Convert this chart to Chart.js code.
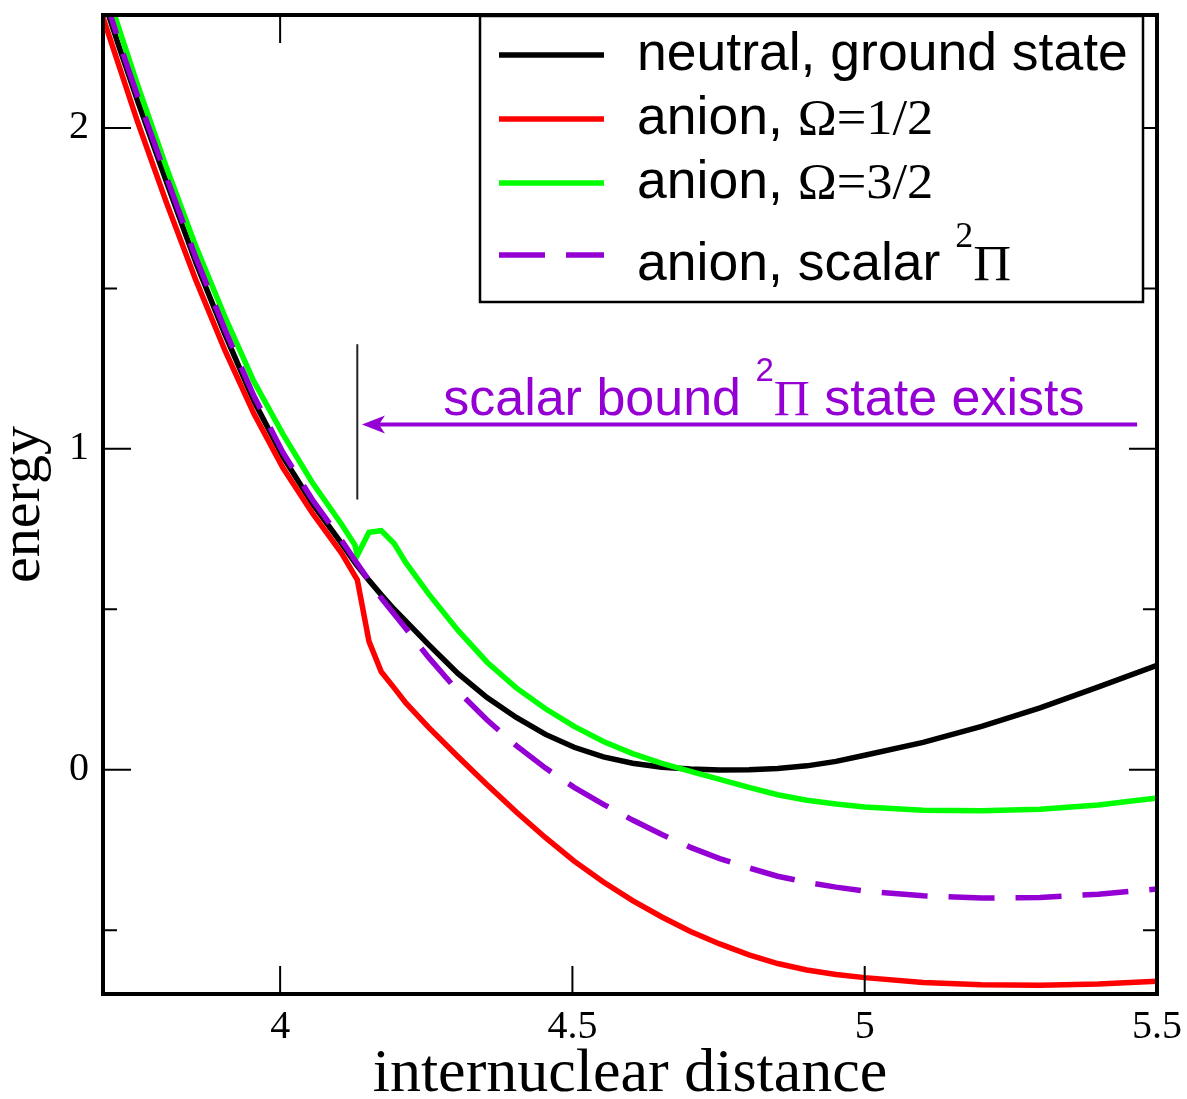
<!DOCTYPE html>
<html>
<head>
<meta charset="utf-8">
<title>energy vs internuclear distance</title>
<script src="https://cdn.jsdelivr.net/npm/chart.js@4.4.1/dist/chart.umd.min.js"></script>
<style>
  html, body { margin: 0; padding: 0; background: #fff; }
  canvas { display: block; }
</style>
</head>
<body>
<canvas id="energyChart" width="1187" height="1099"></canvas>
<script>
// points (internuclear distance)
const distance = [3.696, 3.726, 3.756, 3.806, 3.856, 3.906, 3.955, 4.005, 4.055, 4.105,
                  4.128, 4.132, 4.152, 4.173, 4.195, 4.215, 4.254, 4.304, 4.354, 4.404, 4.454,
                  4.503, 4.553, 4.603, 4.653, 4.702, 4.752, 4.802, 4.851, 4.901, 4.951,
                  5.0, 5.1, 5.2, 5.3, 5.4, 5.5];

const neutralGround = [2.41, 2.245, 2.085, 1.83, 1.58, 1.355, 1.15, 0.975, 0.83, 0.705,
                       0.645, 0.635, 0.59, 0.545, 0.50, 0.463, 0.39, 0.30, 0.225, 0.163, 0.11,
                       0.07, 0.04, 0.02, 0.008, 0.002, -0.001, 0.0, 0.004, 0.012, 0.026,
                       0.045, 0.085, 0.135, 0.193, 0.258, 0.325];

const anionHalf = [2.35, 2.185, 2.02, 1.765, 1.525, 1.305, 1.11, 0.94, 0.80, 0.675,
                   0.604, 0.592, 0.40, 0.305, 0.255, 0.208, 0.132, 0.041, -0.047, -0.132, -0.212,
                   -0.285, -0.35, -0.408, -0.459, -0.504, -0.543, -0.577, -0.604, -0.624, -0.638,
                   -0.648, -0.663, -0.670, -0.672, -0.668, -0.659];

const anionThreeHalf = [2.47, 2.30, 2.135, 1.875, 1.63, 1.41, 1.21, 1.045, 0.895, 0.765,
                        0.70, 0.668, 0.74, 0.745, 0.705, 0.645, 0.548, 0.435, 0.335, 0.255, 0.19,
                        0.135, 0.088, 0.05, 0.02, -0.005, -0.03, -0.055, -0.078, -0.095, -0.107,
                        -0.116, -0.126, -0.128, -0.123, -0.110, -0.088];

const anionScalarPi = [2.43, 2.26, 2.10, 1.845, 1.595, 1.37, 1.165, 0.988, 0.842, 0.715,
                       0.653, 0.642, 0.59, 0.535, 0.485, 0.44, 0.35, 0.245, 0.155, 0.075, 0.005,
                       -0.055, -0.108, -0.157, -0.202, -0.242, -0.277, -0.306, -0.332, -0.351, -0.366,
                       -0.378, -0.393, -0.40, -0.398, -0.388, -0.372];

const xMajorTicks = [4, 4.5, 5, 5.5];
const xTickLabels = ['4', '4.5', '5', '5.5'];
const yMajorTicks = [0, 1, 2];
const yTickLabels = ['0', '1', '2'];
const yMinorTicks = [-0.5, 0.5, 1.5];

// {..} = serif part, ^2 = superscript
const legendLabels = ['neutral, ground state', 'anion, {Ω=1/2}', 'anion, {Ω=3/2}', 'anion, scalar ^2{Π}'];
const noteText = 'scalar bound ^2{Π} state exists';

// annotation: marker line, arrow and its text (data units)
const markerX = 4.132, markerTop = 1.326, markerBottom = 0.842;
const arrowStart = 5.466, arrowEnd = 4.14, arrowY = 1.076;
const noteX = 4.279, noteY = 1.105;

const SANS = "'Liberation Sans', Arial, sans-serif";
const SERIF = "'Liberation Serif', 'Times New Roman', serif";
const PURPLE = '#9400d3';

function pts(values) {
    return distance.map((x, i) => ({ x: x, y: values[i] }));
}

function drawRich(ctx, markup, x, baseline, f) {
    const parts = markup.split(/(\{[^}]*\}|\^\d)/).filter(p => p.length);
    parts.forEach(p => {
        let font = f.sans, text = p, dy = 0, sx = 1;
        if (p[0] === '{') {
            font = f.serif; text = p.slice(1, -1); sx = f.stretch || 1;
        } else if (p[0] === '^') {
            font = f.sup; text = p.slice(1); dy = -f.raise;
        }
        ctx.font = font;
        ctx.save();
        ctx.translate(x, baseline + dy);
        ctx.scale(sx, 1);
        ctx.fillText(text, 0, 0);
        ctx.restore();
        x += ctx.measureText(text).width * sx;
    });
}

const decorations = {
    id: 'decorations',
    afterDatasetsDraw(chart) {
        const { ctx, chartArea: a } = chart;
        const xs = chart.scales.x, ys = chart.scales.y;
        ctx.save();

        // inward ticks on all four sides
        ctx.strokeStyle = '#000';
        ctx.lineWidth = 2;
        ctx.beginPath();
        xMajorTicks.forEach(v => {
            const px = xs.getPixelForValue(v);
            ctx.moveTo(px, a.bottom); ctx.lineTo(px, a.bottom - 28);
            ctx.moveTo(px, a.top); ctx.lineTo(px, a.top + 28);
        });
        yMajorTicks.forEach(v => {
            const py = ys.getPixelForValue(v);
            ctx.moveTo(a.left, py); ctx.lineTo(a.left + 28, py);
            ctx.moveTo(a.right, py); ctx.lineTo(a.right - 28, py);
        });
        yMinorTicks.forEach(v => {
            const py = ys.getPixelForValue(v);
            ctx.moveTo(a.left, py); ctx.lineTo(a.left + 14, py);
            ctx.moveTo(a.right, py); ctx.lineTo(a.right - 14, py);
        });
        ctx.stroke();

        // vertical marker
        const mx = xs.getPixelForValue(markerX);
        ctx.strokeStyle = '#222';
        ctx.lineWidth = 2;
        ctx.beginPath();
        ctx.moveTo(mx, ys.getPixelForValue(markerTop));
        ctx.lineTo(mx, ys.getPixelForValue(markerBottom));
        ctx.stroke();

        // arrow
        const ay = ys.getPixelForValue(arrowY);
        const tip = xs.getPixelForValue(arrowEnd);
        ctx.strokeStyle = PURPLE;
        ctx.fillStyle = PURPLE;
        ctx.lineWidth = 4;
        ctx.beginPath();
        ctx.moveTo(xs.getPixelForValue(arrowStart), ay);
        ctx.lineTo(tip + 15, ay);
        ctx.stroke();
        ctx.beginPath();
        ctx.moveTo(tip, ay);
        ctx.lineTo(tip + 23, ay - 9);
        ctx.lineTo(tip + 17, ay);
        ctx.lineTo(tip + 23, ay + 9);
        ctx.closePath();
        ctx.fill();

        ctx.textBaseline = 'alphabetic';
        ctx.textAlign = 'left';
        drawRich(ctx, noteText, xs.getPixelForValue(noteX), ys.getPixelForValue(noteY), {
            sans: '52px ' + SANS, serif: '50px ' + SERIF, sup: '33px ' + SANS, raise: 34
        });

        // legend box
        const box = { left: 480, top: 16, right: 1143, bottom: 302 };
        ctx.fillStyle = '#fff';
        ctx.fillRect(box.left, box.top, box.right - box.left, box.bottom - box.top);
        ctx.strokeStyle = '#000';
        ctx.lineWidth = 2.5;
        ctx.strokeRect(box.left, box.top, box.right - box.left, box.bottom - box.top);

        const sampleY = [55, 119, 183, 255];
        const textY = [70, 134, 198, 280];
        chart.data.datasets.forEach((ds, i) => {
            ctx.strokeStyle = ds.borderColor;
            ctx.lineWidth = ds.borderWidth;
            ctx.setLineDash(ds.borderDash || []);
            ctx.beginPath();
            ctx.moveTo(499, sampleY[i]);
            ctx.lineTo(604, sampleY[i]);
            ctx.stroke();
            ctx.setLineDash([]);
            ctx.fillStyle = '#000';
            drawRich(ctx, ds.label, 637, textY[i], {
                sans: '53.5px ' + SANS, serif: '50px ' + SERIF, stretch: 1.05,
                sup: '36px ' + SERIF, raise: 33
            });
        });

        // frame
        ctx.strokeStyle = '#000';
        ctx.lineWidth = 4;
        ctx.strokeRect(a.left, a.top, a.right - a.left, a.bottom - a.top);
        ctx.restore();
    }
};

const ctx = document.getElementById('energyChart').getContext('2d');
new Chart(ctx, {
    type: 'line',
    data: {
        datasets: [
            { label: legendLabels[0], data: pts(neutralGround), borderColor: '#000000', borderWidth: 5.5, order: 4 },
            { label: legendLabels[1], data: pts(anionHalf), borderColor: '#ff0000', borderWidth: 5.5, order: 3 },
            { label: legendLabels[2], data: pts(anionThreeHalf), borderColor: '#00ff00', borderWidth: 5.5, order: 2 },
            { label: legendLabels[3], data: pts(anionScalarPi), borderColor: PURPLE, borderWidth: 5.5, borderDash: [46, 21], order: 1 }
        ]
    },
    options: {
        responsive: false,
        animation: false,
        devicePixelRatio: 1,
        layout: { padding: { top: 15, right: 30, left: 0, bottom: 0 } },
        elements: {
            point: { radius: 0 },
            line: { tension: 0, fill: false, borderCapStyle: 'butt' }
        },
        scales: {
            x: {
                type: 'linear',
                min: 3.697,
                max: 5.5,
                afterBuildTicks: s => { s.ticks = xMajorTicks.map(v => ({ value: v })); },
                afterFit: s => { s.height = 105; s.paddingLeft = 0; s.paddingRight = 0; },
                grid: { display: false, drawTicks: false },
                border: { display: false },
                ticks: {
                    color: '#000', padding: 9, maxRotation: 0, autoSkip: false,
                    font: { family: SERIF, size: 40 },
                    callback: (v, i) => xTickLabels[i]
                },
                title: {
                    display: true, text: 'internuclear distance', color: '#000', padding: 0,
                    font: { family: SERIF, size: 62, lineHeight: 0.77 }
                }
            },
            y: {
                type: 'linear',
                min: -0.699,
                max: 2.352,
                afterBuildTicks: s => { s.ticks = yMajorTicks.map(v => ({ value: v })); },
                afterFit: s => { s.width = 103; s.paddingTop = 0; s.paddingBottom = 0; },
                grid: { display: false, drawTicks: false },
                border: { display: false },
                ticks: {
                    color: '#000', padding: 14,
                    font: { family: SERIF, size: 40 },
                    callback: (v, i) => yTickLabels[i]
                },
                title: {
                    display: true, text: 'energy', color: '#000', padding: 0,
                    font: { family: SERIF, size: 58, lineHeight: 0.81 }
                }
            }
        },
        plugins: {
            legend: { display: false },
            tooltip: { enabled: false }
        }
    },
    plugins: [decorations]
});
</script>
</body>
</html>
